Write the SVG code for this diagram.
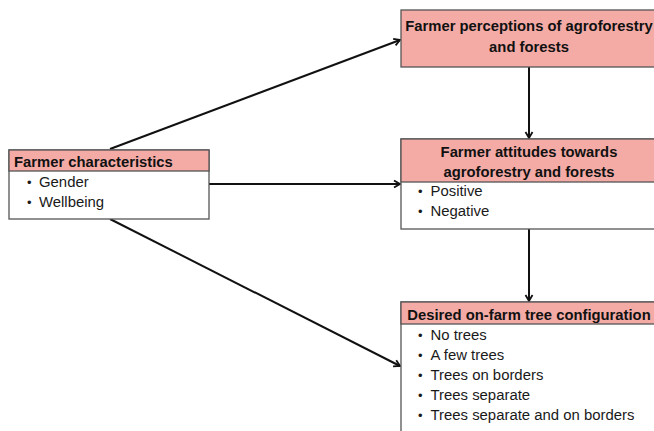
<svg xmlns="http://www.w3.org/2000/svg" width="654" height="431" viewBox="0 0 654 431">
<style>
.box{fill:#ffffff;stroke:#555555;stroke-width:1.3}
.hdr{fill:#f4aba6;stroke:#555555;stroke-width:1.3}
.h{font-family:"Liberation Sans",Arial,sans-serif;font-weight:bold;font-size:14.8px;fill:#111111}
.c{text-anchor:middle}
.t{font-family:"Liberation Sans",Arial,sans-serif;font-size:14.9px;fill:#1a1a1a}
.b{font-family:"Liberation Sans",Arial,sans-serif;font-size:13px;fill:#1a1a1a}
.ln{fill:none;stroke:#111111;stroke-width:2}
</style>
<defs>
<marker id="arr" markerWidth="10" markerHeight="10" refX="8" refY="5" orient="auto" markerUnits="userSpaceOnUse">
<path d="M2,1.5 L8,5 L2,8.5" fill="none" stroke="#111111" stroke-width="1.8"/>
</marker>
</defs>
<rect width="654" height="431" fill="#ffffff"/>
<g id="connectors">
<line class="ln" x1="110" y1="149" x2="400" y2="40" marker-end="url(#arr)"/>
<line class="ln" x1="209" y1="184" x2="400" y2="184" marker-end="url(#arr)"/>
<line class="ln" x1="110" y1="219" x2="400" y2="366" marker-end="url(#arr)"/>
<line class="ln" x1="529" y1="67" x2="529" y2="138" marker-end="url(#arr)"/>
<line class="ln" x1="529" y1="229" x2="529" y2="301" marker-end="url(#arr)"/>
</g>
<g id="farmer-characteristics">
<rect class="box" x="9" y="150" width="200" height="69"/>
<rect class="hdr" x="9" y="150" width="200" height="21"/>
<text class="h" x="14" y="167">Farmer characteristics</text>
<text class="b" x="27" y="187">•</text>
<text class="t" x="39" y="187">Gender</text>
<text class="b" x="27" y="207">•</text>
<text class="t" x="39" y="207">Wellbeing</text>
</g>
<g id="perceptions">
<rect class="hdr" x="401" y="10" width="256" height="57"/>
<text class="h c" x="529" y="31">Farmer perceptions of agroforestry</text>
<text class="h c" x="529" y="52">and forests</text>
</g>
<g id="attitudes">
<rect class="box" x="401" y="139" width="256" height="90"/>
<rect class="hdr" x="401" y="139" width="256" height="43"/>
<text class="h c" x="529" y="157">Farmer attitudes towards</text>
<text class="h c" x="529" y="177">agroforestry and forests</text>
<text class="b" x="418" y="196">•</text>
<text class="t" x="430.5" y="196">Positive</text>
<text class="b" x="418" y="216">•</text>
<text class="t" x="430.5" y="216">Negative</text>
</g>
<g id="configuration">
<rect class="box" x="401" y="302" width="256" height="140"/>
<rect class="hdr" x="401" y="302" width="256" height="22"/>
<text class="h c" x="529" y="319.5">Desired on-farm tree configuration</text>
<text class="b" x="418" y="339.5">•</text>
<text class="t" x="430.5" y="339.5">No trees</text>
<text class="b" x="418" y="359.5">•</text>
<text class="t" x="430.5" y="359.5">A few trees</text>
<text class="b" x="418" y="380">•</text>
<text class="t" x="430.5" y="380">Trees on borders</text>
<text class="b" x="418" y="400">•</text>
<text class="t" x="430.5" y="400">Trees separate</text>
<text class="b" x="418" y="420">•</text>
<text class="t" x="430.5" y="420">Trees separate and on borders</text>
</g>
</svg>
